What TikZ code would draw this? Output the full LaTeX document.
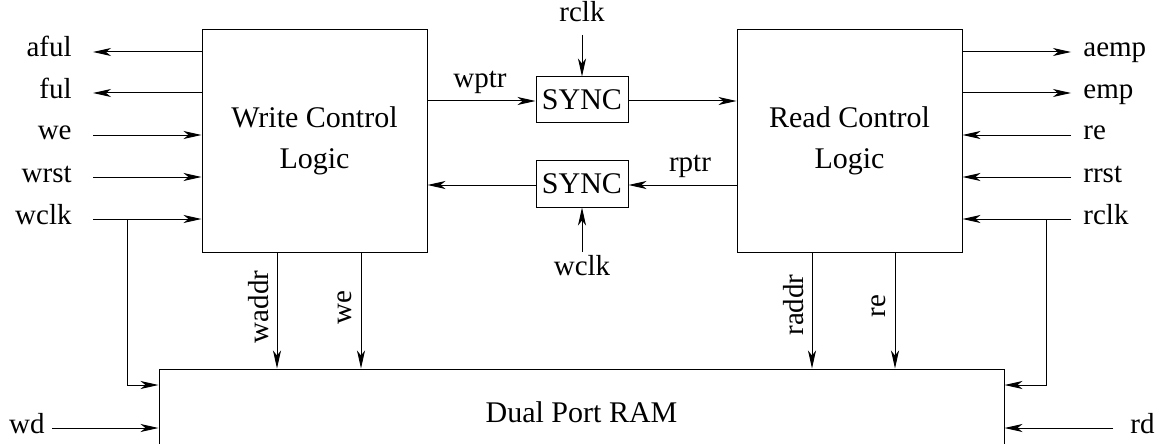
\documentclass[tikz,border=0pt]{standalone}
\usepackage{fontspec}
\setmainfont{Liberation Serif}
\usetikzlibrary{arrows.meta}
\begin{document}
\begin{tikzpicture}[x=0.5pt,y=-0.5pt,
  every node/.style={font=\fontsize{14.5}{20.5}\selectfont, inner sep=0pt},
  blk/.style={draw, line width=0.5pt, font=\fontsize{15}{20.5}\selectfont},
  lbl/.style={text height=0.7em, text depth=0.2em},
  sig/.style={line width=0.5pt, -{Stealth[length=9pt,width=4pt,inset=2.5pt]}},
  wire/.style={line width=0.5pt}]
\useasboundingbox (0,0) rectangle (1161,444);
\clip (0,0) rectangle (1161,444);
% blocks
\node[blk, minimum width=112.5pt, minimum height=111pt, align=center] (wcl) at (314.5,141) {Write Control\\Logic};
\node[blk, minimum width=112.5pt, minimum height=111pt, align=center] (rcl) at (849.5,141) {Read Control\\Logic};
\node[blk, minimum width=46pt, minimum height=23pt] (s1) at (582,100) {SYNC};
\node[blk, minimum width=46pt, minimum height=23.5pt] (s2) at (582,183.5) {SYNC};
\node[blk, minimum width=422.5pt, minimum height=43pt] (ram) at (581.5,412) {Dual Port RAM};
% left signals
\coordinate (pA) at (93,52);  \node[lbl,anchor=east] (tA) at (72,52) {aful};
\coordinate (pB) at (93,93);  \node[lbl,anchor=east] (tB) at (72,93) {ful};
\coordinate (pC) at (93,135); \node[lbl,anchor=east] (tC) at (72,135) {we};
\coordinate (pD) at (93,177); \node[lbl,anchor=east] (tD) at (72,177) {wrst};
\coordinate (pE) at (93,219); \node[lbl,anchor=east] (tE) at (72,219) {wclk};
\draw[sig] (wcl.west |- pA) -- (pA);
\draw[sig] (wcl.west |- pB) -- (pB);
\draw[sig] (pC) -- (wcl.west |- pC);
\draw[sig] (pD) -- (wcl.west |- pD);
\draw[sig] (pE) -- (wcl.west |- pE);
\coordinate (tapW) at (127,219); \coordinate (tapW2) at (127,385);
\draw[sig] (tapW) -- (tapW2) -- (ram.west |- tapW2);
\coordinate (pF) at (52,428); \node[lbl,anchor=east] (tF) at (45,428) {wd};
\draw[sig] (pF) -- (ram.west |- pF);
% right signals
\coordinate (qA) at (1071,52);  \node[lbl,anchor=west] (uA) at (1083,52) {aemp};
\coordinate (qB) at (1071,93);  \node[lbl,anchor=west] (uB) at (1083,93) {emp};
\coordinate (qC) at (1071,135); \node[lbl,anchor=west] (uC) at (1083,135) {re};
\coordinate (qD) at (1071,177); \node[lbl,anchor=west] (uD) at (1083,177) {rrst};
\coordinate (qE) at (1071,219); \node[lbl,anchor=west] (uE) at (1083,219) {rclk};
\draw[sig] (rcl.east |- qA) -- (qA);
\draw[sig] (rcl.east |- qB) -- (qB);
\draw[sig] (qC) -- (rcl.east |- qC);
\draw[sig] (qD) -- (rcl.east |- qD);
\draw[sig] (qE) -- (rcl.east |- qE);
\coordinate (tapR) at (1046,219); \coordinate (tapR2) at (1046,385);
\draw[sig] (tapR) -- (tapR2) -- (ram.east |- tapR2);
\coordinate (qF) at (1113,428); \node[lbl,anchor=west] (uF) at (1130,428) {rd};
\draw[sig] (qF) -- (ram.east |- qF);
% vertical buses to RAM
\coordinate (xWa) at (277,0); \coordinate (xWe) at (361,0);
\coordinate (xRa) at (812,0); \coordinate (xRe) at (895,0);
\draw[sig] (wcl.south -| xWa) -- (ram.north -| xWa);
\draw[sig] (wcl.south -| xWe) -- (ram.north -| xWe);
\draw[sig] (rcl.south -| xRa) -- (ram.north -| xRa);
\draw[sig] (rcl.south -| xRe) -- (ram.north -| xRe);
\node[lbl,rotate=90] (lWa) at (263,307) {waddr};
\node[lbl,rotate=90] (lWe) at (346,308) {we};
\node[lbl,rotate=90] (lRa) at (798,305) {raddr};
\node[lbl,rotate=90] (lRe) at (880,306) {re};
% pointers through sync
\coordinate (yW) at (0,101); \coordinate (yR) at (0,185);
\draw[sig] (wcl.east |- yW) -- (s1.west |- yW);
\draw[sig] (s1.east |- yW) -- (rcl.west |- yW);
\draw[sig] (rcl.west |- yR) -- (s2.east |- yR);
\draw[sig] (s2.west |- yR) -- (wcl.east |- yR);
\node[lbl] (lwp) at (480,83) {wptr};
\node[lbl] (lrp) at (690,166) {rptr};
% sync clocks
\node[lbl] (lrc) at (582,17) {rclk};
\coordinate (rcS) at (582,35);
\draw[sig] (rcS) -- (s1.north);
\node[lbl] (lwc) at (582,270) {wclk};
\coordinate (wcS) at (582,252);
\draw[sig] (wcS) -- (s2.south);
\end{tikzpicture}
\end{document}
